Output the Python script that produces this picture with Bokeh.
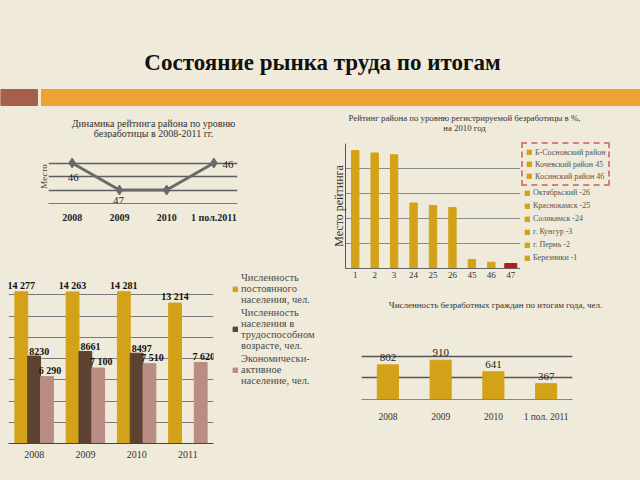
from bokeh.plotting import figure
from bokeh.layouts import column, row
from bokeh.models import (ColumnDataSource, FactorRange, Range1d, FixedTicker,
                          Legend, LegendItem, LabelSet)
from bokeh.transform import dodge
from bokeh.embed import file_html
from bokeh.resources import INLINE
from bokeh.core.properties import value

BG = "#EFEADA"
GOLD = "#D4A218"
BROWN = "#5C4230"
ROSE = "#B98C84"
RED = "#B5191E"
SERIF = "Liberation Serif"

# ---------------- data ----------------
slide_title = "Состояние рынка труда по итогам"

rank_title = ["Динамика рейтинга района по уровню", "безработицы в 2008-2011 гг."]
rank_periods = ["2008", "2009", "2010", "1 пол.2011"]
rank_places = [46, 47, 47, 46]

rating_title = ["Рейтинг района по уровню регистрируемой безработицы в %,", "на 2010 год"]
rating_places = ["1", "2", "3", "24", "25", "26", "45", "46", "47"]
rating_values = [4.72, 4.62, 4.55, 2.62, 2.52, 2.44, 0.36, 0.25, 0.2]
rating_legend = ["Б-Сосновский район", "Кочевский район 45", "Косинский район 46",
                 "Октябрьский -26", "Краснокамск -25", "Соликамск -24",
                 "г. Кунгур -3", "г. Пермь -2", "Березники -1"]

pop_years = ["2008", "2009", "2010", "2011"]
pop_total = [14277, 14263, 14281, 13214]
pop_working_years = ["2008", "2009", "2010"]
pop_working = [8230, 8661, 8497]
pop_active = [6290, 7100, 7510, 7620]
pop_series = ["Численность\nпостоянного\nнаселения, чел.",
              "Численность\nнаселения в\nтрудоспособном\nвозрасте, чел.",
              "Экономически-\nактивное\nнаселение, чел."]

unemp_title = "Численность безработных граждан по итогам года, чел."
unemp_periods = ["2008", "2009", "2010", "1 пол. 2011"]
unemp_counts = [802, 910, 641, 367]


def fmt_space(v):
    return f"{v:,}".replace(",", " ")


def base_fig(**kw):
    p = figure(output_backend="svg", toolbar_location=None,
               background_fill_color=BG, border_fill_color=BG,
               outline_line_color=None, **kw)
    p.frame_align = False
    return p


def bare_fig(width, height, **kw):
    p = base_fig(width=width, height=height, min_border=0, min_border_left=0,
                 min_border_right=0, min_border_top=0, min_border_bottom=0, **kw)
    p.axis.visible = False
    p.grid.visible = False
    return p


# ---------------- header (slide title + chart titles) ----------------
hdr = bare_fig(640, 138, x_range=Range1d(0, 640), y_range=Range1d(138, 0))
hdr.quad(left=[0], right=[37], top=[89], bottom=[105], color="#A65F48")
hdr.quad(left=[41], right=[640], top=[89], bottom=[105], color="#EEA236")
hdr.text(x=[322], y=[62], text=[slide_title], text_font=value(SERIF),
         text_font_size="23px", text_font_style="bold", text_color="#111111",
         text_align="center", text_baseline="middle")
hdr.text(x=[153, 153], y=[123, 133], text=rank_title, text_font=value(SERIF),
         text_font_size="10px", text_color="#333333", text_align="center",
         text_baseline="middle")
hdr.text(x=[464, 464], y=[117, 127], text=rating_title, text_font=value(SERIF),
         text_font_size="8.8px", text_color="#333333", text_align="center",
         text_baseline="middle")

# ---------------- line chart: rank dynamics ----------------
p1 = base_fig(width=320, height=122, x_range=FactorRange(*rank_periods),
              y_range=Range1d(47.5, 45.5),
              min_border_left=48, min_border_right=83, min_border_top=11, min_border_bottom=57)
p1.yaxis.ticker = FixedTicker(ticks=[])
p1.ygrid.ticker = FixedTicker(ticks=[45.5, 46, 46.5, 47, 47.5])
p1.ygrid.grid_line_color = "#5E5E5E"
p1.ygrid.grid_line_width = 1.5
p1.xgrid.visible = False
p1.yaxis.axis_line_color = None
p1.yaxis.major_tick_line_color = None
p1.yaxis.minor_tick_line_color = None
p1.yaxis.axis_label = "Место"
p1.yaxis.axis_label_text_font = SERIF
p1.yaxis.axis_label_text_font_size = "9px"
p1.yaxis.axis_label_text_font_style = "normal"
p1.yaxis.axis_label_standoff = 0
p1.xaxis.axis_line_color = "#777777"
p1.xaxis.major_tick_line_color = None
p1.xaxis.major_label_text_font = SERIF
p1.xaxis.major_label_text_font_size = "10px"
p1.xaxis.major_label_text_font_style = "bold"
p1.xaxis.major_label_text_color = "#222222"
p1.xaxis.major_label_standoff = 2
p1.line(x=rank_periods, y=rank_places, line_color="#6A6A6A", line_width=3)
p1.scatter(x=rank_periods, y=rank_places, marker="diamond", size=10, color="#6A6A6A")
lbl_dx = [1, -1, -1, 14]
lbl_dy = [14, 10, 16, 1]
p1.text(x=rank_periods, y=rank_places, text=[str(v) for v in rank_places],
        x_offset=lbl_dx, y_offset=lbl_dy, text_font=value(SERIF), text_font_size="11px",
        text_color="#222222", text_align="center", text_baseline="middle")

# ---------------- grouped bars: population ----------------
p2 = base_fig(width=220, height=220, x_range=FactorRange(*pop_years), y_range=Range1d(0, 16000),
              min_border_left=8, min_border_right=7, min_border_top=13, min_border_bottom=37)
p2.yaxis.visible = False
p2.ygrid.ticker = FixedTicker(ticks=list(range(2000, 16001, 2000)))
p2.ygrid.grid_line_color = "#7A7A7A"
p2.ygrid.grid_line_width = 1
p2.xgrid.visible = False
p2.xaxis.axis_line_color = "#444444"
p2.xaxis.major_tick_line_color = None
p2.xaxis.major_label_text_font = SERIF
p2.xaxis.major_label_text_font_size = "10px"
p2.xaxis.major_label_text_color = "#333333"
p2.xaxis.major_label_standoff = 1

s_tot = ColumnDataSource(dict(x=pop_years, v=pop_total, t=[fmt_space(v) for v in pop_total]))
s_wrk = ColumnDataSource(dict(x=pop_working_years, v=pop_working, t=[str(v) for v in pop_working]))
s_act = ColumnDataSource(dict(x=pop_years, v=pop_active, t=[fmt_space(v) for v in pop_active]))
p2.vbar(x=dodge("x", -0.25, range=p2.x_range), top="v", width=0.25, source=s_tot, color=GOLD)
p2.vbar(x=dodge("x", 0.0, range=p2.x_range), top="v", width=0.25, source=s_wrk, color=BROWN)
p2.vbar(x=dodge("x", 0.25, range=p2.x_range), top="v", width=0.25, source=s_act, color=ROSE)
for src, off, dx in ((s_tot, -0.25, 0), (s_wrk, 0.0, 5), (s_act, 0.25, 3)):
    p2.add_layout(LabelSet(x=dodge("x", off, range=p2.x_range), y="v", text="t", source=src,
                           x_offset=dx, y_offset=1, text_font=SERIF, text_font_size="10px",
                           text_font_style="bold", text_color="#111111", text_align="center",
                           text_baseline="bottom"))

# legend panel for the population chart (renderers hidden, only the legend shows)
p2leg = bare_fig(100, 220, x_range=FactorRange(*pop_years), y_range=Range1d(0, 16000))
l_tot = p2leg.vbar(x="x", top="v", width=0.25, source=s_tot, color=GOLD, visible=False)
l_wrk = p2leg.vbar(x="x", top="v", width=0.25, source=s_wrk, color=BROWN, visible=False)
l_act = p2leg.vbar(x="x", top="v", width=0.25, source=s_act, color=ROSE, visible=False)
leg2 = Legend(items=[LegendItem(label=pop_series[0], renderers=[l_tot]),
                     LegendItem(label=pop_series[1], renderers=[l_wrk]),
                     LegendItem(label=pop_series[2], renderers=[l_act])],
              location="top_left", margin=12, padding=2, spacing=2,
              glyph_width=6, glyph_height=6, label_standoff=3,
              label_text_font=SERIF, label_text_font_size="10.5px",
              label_text_color="#4A4A4A", background_fill_alpha=0,
              border_line_color=None, inactive_fill_alpha=0)
p2leg.add_layout(leg2)

# ---------------- rating bars ----------------
p3 = base_fig(width=200, height=152, x_range=FactorRange(*rating_places), y_range=Range1d(0, 5),
              min_border_left=25, min_border_right=0, min_border_top=5, min_border_bottom=22)
p3.yaxis.ticker = FixedTicker(ticks=[])
p3.ygrid.ticker = FixedTicker(ticks=[1, 2, 3, 4, 5])
p3.ygrid.grid_line_color = "#8A8A8A"
p3.ygrid.grid_line_width = 1
p3.xgrid.visible = False
p3.yaxis.axis_line_color = "#555555"
p3.yaxis.major_tick_line_color = None
p3.yaxis.minor_tick_line_color = None
p3.yaxis.axis_label = "Место рейтинга"
p3.yaxis.axis_label_text_font = SERIF
p3.yaxis.axis_label_text_font_size = "12px"
p3.yaxis.axis_label_text_font_style = "normal"
p3.yaxis.axis_label_text_color = "#333333"
p3.yaxis.axis_label_standoff = 0
p3.xaxis.axis_line_color = "#666666"
p3.xaxis.major_tick_line_color = None
p3.xaxis.major_label_text_font = SERIF
p3.xaxis.major_label_text_font_size = "9px"
p3.xaxis.major_label_text_color = "#333333"
p3.xaxis.major_label_standoff = -3

s_rt = ColumnDataSource(dict(x=rating_places, v=rating_values))
p3.vbar(x="x", top="v", width=0.38, source=s_rt, color=GOLD)
p3.vbar(x=rating_places[-1:], top=rating_values[-1:], width=0.62, color=RED)

# legend panel for the rating chart (renderer hidden, only the legend shows)
p3leg = bare_fig(120, 152, x_range=FactorRange(*rating_places), y_range=Range1d(0, 5))
l_rt = p3leg.vbar(x="x", top="v", width=0.38, source=s_rt, color=GOLD, visible=False)
n = len(rating_places)
items_a = [LegendItem(label=rating_legend[i], renderers=[l_rt], index=n - 1 - i) for i in range(3)]
items_b = [LegendItem(label=rating_legend[i], renderers=[l_rt], index=n - 1 - i) for i in range(3, n)]
leg_common = dict(margin=0, spacing=2, glyph_width=6, glyph_height=6, label_standoff=3,
                  label_text_font=SERIF, label_text_font_size="8px",
                  label_text_color="#555555", background_fill_alpha=0, inactive_fill_alpha=0)
leg3a = Legend(items=items_a, location=(1, 104), padding=3, label_height=10,
               border_line_color=RED, border_line_width=2, border_line_dash="4 2", **leg_common)
leg3b = Legend(items=items_b, location=(4, 27), padding=0, label_height=11,
               border_line_color=None, **leg_common)
p3leg.add_layout(leg3a)
p3leg.add_layout(leg3b)

# ---------------- unemployed bars ----------------
p4t = bare_fig(320, 36, x_range=Range1d(320, 640), y_range=Range1d(326, 290))
p4t.text(x=[495], y=[304], text=[unemp_title], text_font=value(SERIF),
         text_font_size="9px", text_color="#333333", text_align="center",
         text_baseline="middle")

p4 = base_fig(width=320, height=154, x_range=FactorRange(*unemp_periods), y_range=Range1d(0, 1250),
              min_border_left=41, min_border_right=68, min_border_top=19, min_border_bottom=81)
p4.yaxis.visible = False
p4.ygrid.ticker = FixedTicker(ticks=[500, 1000])
p4.ygrid.grid_line_color = "#555555"
p4.ygrid.grid_line_width = 1.6
p4.xgrid.visible = False
p4.xaxis.axis_line_color = "#888888"
p4.xaxis.major_tick_line_color = None
p4.xaxis.major_label_text_font = SERIF
p4.xaxis.major_label_text_font_size = "9.5px"
p4.xaxis.major_label_text_color = "#333333"
p4.xaxis.major_label_standoff = 6
s_un = ColumnDataSource(dict(x=unemp_periods, v=unemp_counts, t=[str(v) for v in unemp_counts]))
p4.vbar(x="x", top="v", width=0.4, source=s_un, color=GOLD)
p4.add_layout(LabelSet(x="x", y="v", text="t", source=s_un, y_offset=4, text_font=SERIF,
                       text_font_size="11px", text_color="#222222", text_align="center",
                       text_baseline="bottom"))

bgs = {"background-color": BG}
left = column(p1, row(p2, p2leg, styles=bgs), styles=bgs)
right = column(row(p3, p3leg, styles=bgs), p4t, p4, styles=bgs)
layout = column(hdr, row(left, right, styles=bgs), styles=bgs)
open("out.html", "w").write(file_html(layout, INLINE))
